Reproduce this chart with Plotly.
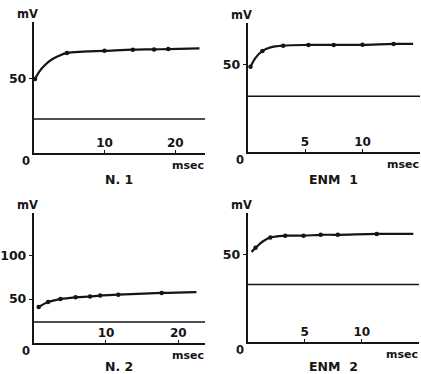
import plotly.graph_objects as go

# ---- data ----
n1_curve_x = [0.2, 0.8, 1.5, 2.5, 3.5, 4.7, 7, 10, 14, 17, 19, 23.4]
n1_curve_y = [50, 55, 59, 63, 65.5, 67.6, 68.5, 69, 69.8, 70, 70.2, 70.7]
n1_pts_x = [0.2, 4.7, 10, 14, 17, 19]
n1_pts_y = [50, 67.6, 69, 69.8, 70, 70.2]
n1_base = 23

e1_curve_x = [0.26, 0.7, 1.3, 2, 3.1, 5.3, 7.5, 10, 12.7, 14.4]
e1_curve_y = [48.9, 54, 58, 60, 61, 61.4, 61.4, 61.5, 62, 62]
e1_pts_x = [0.26, 1.3, 3.1, 5.3, 7.5, 10, 12.7]
e1_pts_y = [48.9, 58, 61, 61.4, 61.4, 61.5, 62]
e1_base = 32

n2_curve_x = [0.7, 2, 3.7, 5.8, 7.8, 9.2, 11.7, 17.7, 22.5]
n2_curve_y = [41, 46.6, 50, 52, 53, 54, 55, 57, 58]
n2_pts_x = [0.7, 2, 3.7, 5.8, 7.8, 9.2, 11.7, 17.7]
n2_pts_y = [41, 46.6, 50, 52, 53, 54, 55, 57]
n2_base = 24

e2_curve_x = [0.35, 0.7, 1.3, 2, 3.3, 4.9, 6.4, 7.9, 11.3, 14.5]
e2_curve_y = [51.7, 54, 57.5, 60, 61, 61, 61.5, 61.5, 62, 62]
e2_pts_x = [0.7, 2, 3.3, 4.9, 6.4, 7.9, 11.3]
e2_pts_y = [54, 60, 61, 61, 61.5, 61.5, 62]
e2_base = 33

panel_titles = ["N. 1", "ENM  1", "N. 2", "ENM  2"]
x_ticks = [[10, 20], [5, 10], [10, 20], [5, 10]]
y_ticks = [[50], [50], [50, 100], [50]]
x_max = [24.2, 15.0, 23.7, 15.0]
y_max = [88.5, 74, 148, 74]

W, H = 421, 374
# pixel boxes (left, right, top, bottom)
boxes = [(28, 202, 22, 153), (245, 420, 23, 152), (28, 202, 213, 343), (245, 419, 213, 342)]
title_y = [180, 180, 366, 366]

INK = "#151515"
FONT = "DejaVu Sans"

fig = go.Figure()
curves = [(n1_curve_x, n1_curve_y, n1_pts_x, n1_pts_y, n1_base),
          (e1_curve_x, e1_curve_y, e1_pts_x, e1_pts_y, e1_base),
          (n2_curve_x, n2_curve_y, n2_pts_x, n2_pts_y, n2_base),
          (e2_curve_x, e2_curve_y, e2_pts_x, e2_pts_y, e2_base)]

annotations = []
for i, (cx, cy, px, py, base) in enumerate(curves):
    xa = "x" if i == 0 else f"x{i+1}"
    ya = "y" if i == 0 else f"y{i+1}"
    fig.add_trace(go.Scatter(x=[0, x_max[i]], y=[base, base], mode="lines",
                             line=dict(color=INK, width=1.5), xaxis=xa, yaxis=ya, showlegend=False))
    fig.add_trace(go.Scatter(x=cx, y=cy, mode="lines", line=dict(color=INK, width=2.2, shape="spline"),
                             xaxis=xa, yaxis=ya, showlegend=False))
    fig.add_trace(go.Scatter(x=px, y=py, mode="markers", marker=dict(color=INK, size=4.5),
                             xaxis=xa, yaxis=ya, showlegend=False))
    l, r, t, b = boxes[i]
    xd = [l / W, r / W]
    yd = [1 - b / H, 1 - t / H]
    axsuf = "" if i == 0 else str(i + 1)
    fig.layout["xaxis" + axsuf] = dict(
        domain=xd, range=[0, x_max[i]], anchor=ya, showgrid=False, zeroline=False,
        showline=True, linecolor=INK, linewidth=1.6, tickvals=x_ticks[i],
        ticks="inside", ticklen=3, tickcolor=INK, ticklabelposition="inside",
        tickfont=dict(family=FONT, size=12, color=INK, weight="bold"))
    fig.layout["yaxis" + axsuf] = dict(
        domain=yd, range=[0, y_max[i]], anchor=xa, showgrid=False, zeroline=False,
        showline=True, linecolor=INK, linewidth=1.6, tickvals=y_ticks[i],
        ticks="outside", ticklen=3, tickcolor=INK,
        tickfont=dict(family=FONT, size=12.5, color=INK, weight="bold"))
    annotations += [
        dict(text="mV", x=l - 6, y=t - 8, size=11.5),
        dict(text="0", x=l - 8, y=b + 8, size=11.5),
        dict(text="msec", x=r - 17, y=b + 12, size=11),
        dict(text=panel_titles[i], x=l + 87, y=title_y[i], size=12.5),
    ]

fig.update_layout(
    width=W, height=H, margin=dict(l=0, r=0, t=0, b=0),
    paper_bgcolor="white", plot_bgcolor="white",
    annotations=[dict(text=a["text"], x=a["x"] / W, y=1 - a["y"] / H, xref="paper", yref="paper",
                      showarrow=False, xanchor="center", yanchor="middle",
                      font=dict(family=FONT, size=a["size"], color=INK, weight="bold"))
                 for a in annotations],
)

fig.write_html("out.html")
